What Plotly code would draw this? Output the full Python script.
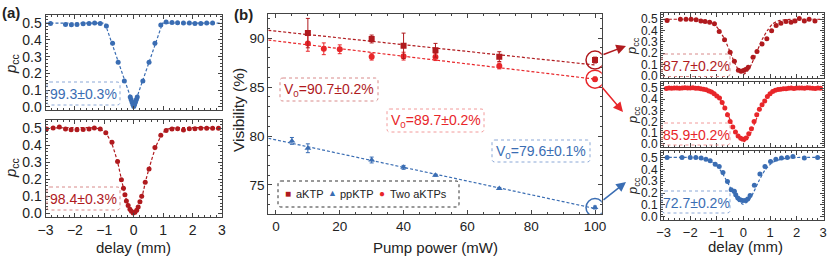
import plotly.graph_objects as go

W, H = 831, 258
FONT = "Liberation Sans, Arial, sans-serif"
DARKRED = "#b01a1e"
RED = "#e8262a"
BLUE = "#3a6db3"
FRAME = "#444444"

# ---------------- data ----------------
# (a) top: ppKTP HOM dip (blue)
a1_x = [-2.83, -2.32, -2.12, -1.93, -1.72, -1.52, -1.33, -1.14, -0.93, -0.72, -0.53, -0.32,
        -0.12, -0.09, -0.06, -0.03, 0.0, 0.03, 0.06, 0.09, 0.12,
        0.31, 0.52, 0.72, 0.92, 1.10, 1.30, 1.49, 1.69, 1.89, 2.08, 2.28, 2.48, 2.68]
a1_y = [0.498, 0.492, 0.490, 0.492, 0.496, 0.498, 0.500, 0.498, 0.482, 0.379, 0.266, 0.155,
        0.060, 0.045, 0.030, 0.015, 0.003, 0.015, 0.030, 0.045, 0.060,
        0.155, 0.266, 0.379, 0.488, 0.506, 0.504, 0.502, 0.500, 0.500, 0.498, 0.498, 0.500, 0.500]
a1_fit_x = [-3.0, -0.98, 0.0, 0.98, 3.0]
a1_fit_y = [0.5, 0.5, 0.003, 0.5, 0.5]
a1_label = "99.3±0.3%"

# (a) bottom: aKTP HOM dip (dark red)
a2_x = [-2.97, -2.74, -2.53, -2.32, -2.13, -1.93, -1.72, -1.52, -1.34, -1.14, -0.95, -0.74,
        -0.55, -0.42, -0.35, -0.30, -0.25, -0.19, -0.13, -0.08, -0.02, 0.04, 0.10, 0.15,
        0.21, 0.27, 0.39, 0.52, 0.72, 0.92, 1.10, 1.30, 1.49, 1.69, 1.89, 2.08, 2.28, 2.48,
        2.68, 2.88]
a2_y = [0.494, 0.500, 0.506, 0.494, 0.490, 0.490, 0.492, 0.494, 0.500, 0.494, 0.472, 0.416,
        0.304, 0.196, 0.147, 0.108, 0.072, 0.045, 0.024, 0.011, 0.002, 0.006, 0.017, 0.037,
        0.068, 0.100, 0.182, 0.259, 0.386, 0.457, 0.486, 0.494, 0.496, 0.488, 0.496, 0.496,
        0.498, 0.498, 0.498, 0.498]
a2_fit_x = [-3.0, -1.3, -1.1, -0.95, -0.75, -0.55, -0.42, -0.3, -0.2, -0.1, 0.0,
            0.1, 0.2, 0.3, 0.42, 0.55, 0.75, 0.95, 1.1, 1.3, 3.0]
a2_fit_y = [0.5, 0.5, 0.49, 0.47, 0.41, 0.30, 0.20, 0.11, 0.05, 0.013, 0.0,
            0.013, 0.05, 0.11, 0.20, 0.28, 0.39, 0.46, 0.49, 0.5, 0.5]
a2_label = "98.4±0.3%"

# (b) visibility vs pump power
pump_akt = [10, 30, 40, 50, 70, 100]
vis_akt = [90.5, 89.9, 89.2, 88.75, 88.1, 87.75]
err_akt = [1.5, 0.4, 1.3, 0.7, 0.5, 0.3]
pump_pp = [5, 10, 30, 40, 50, 70, 100]
vis_pp = [79.5, 78.75, 77.55, 76.8, 76.0, 74.65, 72.7]
err_pp = [0.35, 0.45, 0.3, 0.2, 0.1, 0.1, 0.15]
pump_two = [10, 15, 20, 30, 40, 50, 70, 100]
vis_two = [89.45, 88.9, 88.85, 88.1, 88.15, 88.05, 87.15, 85.8]
err_two = [0.8, 0.6, 0.45, 0.35, 0.4, 0.35, 0.3, 0.2]
fit_pump = [-2.4, 100]
fit_akt = [90.78, 87.25]
fit_two = [89.79, 85.80]
fit_pp = [79.77, 72.60]
v0_labels = ["V<sub>0</sub>=90.7±0.2%", "V<sub>0</sub>=89.7±0.2%", "V<sub>0</sub>=79.6±0.1%"]
legend_names = ["aKTP", "ppKTP", "Two aKTPs"]

# right column: dips at 100 mW
r1_x = [-2.87, -2.37, -2.16, -1.97, -1.78, -1.60, -1.44, -1.27, -1.09, -0.91, -0.71, -0.50,
        -0.34, -0.19, -0.09, 0.0, 0.08, 0.18, 0.36, 0.51, 0.70, 0.88, 1.06, 1.23, 1.41,
        1.60, 1.79, 1.94, 2.10, 2.29, 2.47, 2.69]
r1_y = [0.489, 0.500, 0.500, 0.500, 0.495, 0.485, 0.480, 0.474, 0.460, 0.392, 0.319, 0.208,
        0.129, 0.050, 0.041, 0.047, 0.055, 0.076, 0.164, 0.216, 0.281, 0.327, 0.398, 0.444, 0.465,
        0.480, 0.474, 0.485, 0.506, 0.485, 0.500, 0.485]
r1_fit_x = [-3.0, -2.0, -1.6, -1.3, -1.1, -0.9, -0.7, -0.5, -0.3, -0.15, 0.0,
            0.15, 0.3, 0.5, 0.7, 0.9, 1.1, 1.3, 1.6, 2.0, 3.0]
r1_fit_y = [0.5, 0.5, 0.497, 0.485, 0.46, 0.40, 0.32, 0.21, 0.10, 0.04, 0.015,
            0.04, 0.10, 0.21, 0.32, 0.40, 0.46, 0.485, 0.497, 0.5, 0.5]
r1_label = "87.7±0.2%"

r2_x = [-2.9, -2.8, -2.7, -2.6, -2.5, -2.4, -2.3, -2.2, -2.1, -2.0, -1.9, -1.8, -1.7, -1.6,
        -1.5, -1.4, -1.3, -1.2, -1.1, -1.0, -0.9, -0.8, -0.7, -0.6, -0.5, -0.4, -0.3, -0.2,
        -0.1, 0.0, 0.1, 0.2, 0.3, 0.4, 0.5, 0.6, 0.7, 0.8, 0.9, 1.0, 1.1, 1.2, 1.3, 1.4,
        1.5, 1.6, 1.7, 1.8, 1.9, 2.0, 2.1, 2.2, 2.3, 2.4, 2.5, 2.6, 2.7, 2.8, 2.9]
r2_y = [0.497, 0.500, 0.498, 0.500, 0.502, 0.499, 0.500, 0.503, 0.501, 0.500, 0.504, 0.499,
        0.498, 0.495, 0.490, 0.485, 0.475, 0.465, 0.450, 0.430, 0.410, 0.370, 0.320, 0.260,
        0.200, 0.150, 0.105, 0.070, 0.048, 0.040, 0.050, 0.090, 0.135, 0.200, 0.260, 0.310,
        0.350, 0.385, 0.425, 0.450, 0.470, 0.480, 0.487, 0.490, 0.495, 0.495, 0.498, 0.500,
        0.497, 0.500, 0.502, 0.500, 0.498, 0.503, 0.500, 0.499, 0.497, 0.500, 0.498]
r2_fit_x = [-3.0, -2.0, -1.5, -1.2, -1.0, -0.8, -0.6, -0.4, -0.2, 0.0,
            0.2, 0.4, 0.6, 0.8, 1.0, 1.2, 1.5, 2.0, 3.0]
r2_fit_y = [0.5, 0.5, 0.497, 0.48, 0.44, 0.37, 0.27, 0.16, 0.06, 0.015,
            0.06, 0.17, 0.29, 0.39, 0.445, 0.48, 0.497, 0.5, 0.5]
r2_label = "85.9±0.2%"

r3_x = [-2.87, -2.31, -2.00, -1.79, -1.59, -1.41, -1.25, -1.06, -0.91, -0.77, -0.60, -0.46,
        -0.34, -0.29, -0.21, -0.12, -0.04, 0.06, 0.16, 0.25, 0.41, 0.62, 0.81, 1.02, 1.22,
        1.43, 1.65, 1.86, 2.29, 2.79]
r3_y = [0.500, 0.500, 0.500, 0.500, 0.495, 0.486, 0.472, 0.444, 0.425, 0.374, 0.298, 0.228,
        0.214, 0.185, 0.157, 0.143, 0.137, 0.137, 0.150, 0.180, 0.265, 0.360, 0.425, 0.467, 0.486,
        0.495, 0.500, 0.508, 0.495, 0.500]
r3_fit_x = [-3.0, -2.0, -1.5, -1.2, -1.0, -0.8, -0.6, -0.4, -0.2, 0.0,
            0.2, 0.4, 0.6, 0.8, 1.0, 1.2, 1.5, 2.0, 3.0]
r3_fit_y = [0.5, 0.5, 0.49, 0.465, 0.43, 0.37, 0.29, 0.205, 0.135, 0.105,
            0.135, 0.215, 0.31, 0.39, 0.44, 0.47, 0.49, 0.5, 0.5]
r3_label = "72.7±0.2%"

# ---------------- helpers ----------------
def PX(x):
    return x / W


def PY(y):
    return 1 - y / H


def rounded_box(x0, y0, x1, y1, color, r=3):
    rx, ry = r / W, r / H
    X0, X1 = PX(x0), PX(x1)
    Y0, Y1 = PY(y0), PY(y1)  # Y0 top (larger), Y1 bottom
    path = (f"M {X0+rx},{Y0} L {X1-rx},{Y0} Q {X1},{Y0} {X1},{Y0-ry} "
            f"L {X1},{Y1+ry} Q {X1},{Y1} {X1-rx},{Y1} L {X0+rx},{Y1} "
            f"Q {X0},{Y1} {X0},{Y1+ry} L {X0},{Y0-ry} Q {X0},{Y0} {X0+rx},{Y0} Z")
    return dict(type="path", path=path, xref="paper", yref="paper",
                line=dict(color=color, width=1, dash="dot"), layer="above")


fig = go.Figure()
DASH = "3px,2px"


def dip(xs, ys, fx, fy, color, ax, size=5):
    fig.add_trace(go.Scatter(x=fx, y=fy, mode="lines", line=dict(color=color, width=1.2, dash=DASH, shape="spline", smoothing=0.6),
                             xaxis="x" + ax, yaxis="y" + ax, showlegend=False, hoverinfo="skip"))
    fig.add_trace(go.Scatter(x=xs, y=ys, mode="markers", marker=dict(color=color, size=size),
                             xaxis="x" + ax, yaxis="y" + ax, showlegend=False))


fig.add_trace(go.Scatter(x=a1_fit_x, y=a1_fit_y, mode="lines", line=dict(color=BLUE, width=1.2, dash=DASH),
                         xaxis="x", yaxis="y", showlegend=False))
fig.add_trace(go.Scatter(x=a1_x, y=a1_y, mode="markers", marker=dict(color=BLUE, size=5),
                         xaxis="x", yaxis="y", showlegend=False))
dip(a2_x, a2_y, a2_fit_x, a2_fit_y, DARKRED, "2")
dip(r1_x, r1_y, r1_fit_x, r1_fit_y, DARKRED, "4")
dip(r2_x, r2_y, r2_fit_x, r2_fit_y, RED, "5")
dip(r3_x, r3_y, r3_fit_x, r3_fit_y, BLUE, "6")

# (b)
for fy, col in [(fit_akt, DARKRED), (fit_two, RED), (fit_pp, BLUE)]:
    fig.add_trace(go.Scatter(x=fit_pump, y=fy, mode="lines", line=dict(color=col, width=1.2, dash=DASH),
                             xaxis="x3", yaxis="y3", showlegend=False))
fig.add_trace(go.Scatter(x=pump_two, y=vis_two, mode="markers",
                         marker=dict(color=RED, size=6, symbol="circle"),
                         error_y=dict(type="data", array=err_two, color=RED, thickness=1, width=2),
                         xaxis="x3", yaxis="y3", showlegend=False))
fig.add_trace(go.Scatter(x=pump_akt, y=vis_akt, mode="markers",
                         marker=dict(color=DARKRED, size=6, symbol="square"),
                         error_y=dict(type="data", array=err_akt, color=DARKRED, thickness=1, width=2),
                         xaxis="x3", yaxis="y3", showlegend=False))
fig.add_trace(go.Scatter(x=pump_pp, y=vis_pp, mode="markers",
                         marker=dict(color=BLUE, size=6, symbol="triangle-up"),
                         error_y=dict(type="data", array=err_pp, color=BLUE, thickness=1, width=2),
                         xaxis="x3", yaxis="y3", showlegend=False))

# ---------------- axes ----------------
def axis(domain, rng, dtick, minor, size=14, labels=True, fmt=None, anchor=None):
    d = dict(domain=domain, range=rng, dtick=dtick, tick0=0, showline=True, linecolor=FRAME, linewidth=1,
             mirror="allticks", ticks="inside", ticklen=4, tickcolor=FRAME, tickwidth=1,
             showgrid=False, zeroline=False, showticklabels=labels, automargin=False,
             tickfont=dict(family=FONT, size=size, color="#222"),
             minor=dict(ticks="inside", ticklen=2, dtick=minor, tickcolor=FRAME, showgrid=False),
             anchor=anchor)
    if fmt:
        d["tickformat"] = fmt
    return d


ax_a = [PX(45.5), PX(222)]
ax_r = [PX(661), PX(824)]
layout_axes = dict(
    xaxis=axis(ax_a, [-3, 3], 1, 0.2, labels=False, anchor="y"),
    yaxis=axis([PY(110), PY(15)], [-0.018, 0.548], 0.1, 0.02, fmt=".1f", anchor="x"),
    xaxis2=axis(ax_a, [-3, 3], 1, 0.2, anchor="y2"),
    yaxis2=axis([PY(217), PY(120)], [-0.022, 0.547], 0.1, 0.02, fmt=".1f", anchor="x2"),
    xaxis3=axis([PX(268.3), PX(601.7)], [-2.4, 102.1], 20, 5, size=13.5, anchor="y3"),
    yaxis3=axis([PY(214), PY(14)], [72.04, 92.45], 5, 1, size=13.5, anchor="x3"),
    xaxis4=axis(ax_r, [-3.1, 3.03], 1, 0.2, size=13, labels=False, anchor="y4"),
    yaxis4=axis([PY(77.5), PY(13.3)], [-0.015, 0.553], 0.1, 0.02, size=12, fmt=".1f", anchor="x4"),
    xaxis5=axis(ax_r, [-3.1, 3.03], 1, 0.2, size=13, labels=False, anchor="y5"),
    yaxis5=axis([PY(147), PY(82)], [-0.03, 0.555], 0.1, 0.02, size=12, fmt=".1f", anchor="x5"),
    xaxis6=axis(ax_r, [-3.1, 3.03], 1, 0.2, size=13, anchor="y6"),
    yaxis6=axis([PY(220), PY(151)], [-0.028, 0.555], 0.1, 0.02, size=12, fmt=".1f", anchor="x6"),
)

# ---------------- annotations & shapes ----------------
ann = []
shapes = []


def text(x, y, s, size=14, color="#222", angle=0, bold=False, xanchor="center"):
    if bold:
        s = "<b>" + s + "</b>"
    ann.append(dict(x=PX(x), y=PY(y), xref="paper", yref="paper", text=s, showarrow=False,
                    textangle=angle, xanchor=xanchor, yanchor="middle",
                    font=dict(family=FONT, size=size, color=color)))


# panel labels
text(11, 13, "(a)", size=15, bold=True)
text(244, 15, "(b)", size=15, bold=True)

# axis titles
text(11, 64, "<i>p</i><sub>cc</sub>", size=15, angle=-90)
text(11, 168, "<i>p</i><sub>cc</sub>", size=15, angle=-90)
text(133.5, 247, "delay (mm)", size=15)
text(238, 110, "Visibility (%)", size=15.5, angle=-90)
text(435, 247, "Pump power (mW)", size=15)
text(633, 46, "<i>p</i><sub>cc</sub>", size=13, angle=-90)
text(633, 115, "<i>p</i><sub>cc</sub>", size=13, angle=-90)
text(633, 186, "<i>p</i><sub>cc</sub>", size=13, angle=-90)
text(745, 246, "delay (mm)", size=15)

# value boxes
boxes = [
    ((47, 82, 120, 105), a1_label, BLUE, "#8aa7d6"),
    ((47, 187, 120, 210), a2_label, DARKRED, "#d88a8a"),
    ((662, 54, 730, 76.5), r1_label, DARKRED, "#d88a8a"),
    ((662, 123, 730, 145), r2_label, RED, "#f29a9a"),
    ((662, 191, 730, 213), r3_label, BLUE, "#8aa7d6"),
    ((280, 78, 378, 101), v0_labels[0], DARKRED, "#d88a8a"),
    ((387, 109, 484, 132), v0_labels[1], RED, "#f29a9a"),
    ((492, 140, 590, 162), v0_labels[2], BLUE, "#8aa7d6"),
]
for (x0, y0, x1, y1), s, col, bcol in boxes:
    shapes.append(rounded_box(x0, y0, x1, y1, bcol))
    text((x0 + x1) / 2, (y0 + y1) / 2 + 0.5, s, size=14, color=col)

# legend (manual)
shapes.append(rounded_box(278, 181, 459, 207, "#333333"))
text(288, 193.5, "■", size=10, color=DARKRED)
text(294, 194, legend_names[0], size=11, xanchor="left")
text(332, 193, "▲", size=9, color=BLUE)
text(338, 194, legend_names[1], size=11, xanchor="left")
text(382, 193.5, "●", size=10, color=RED)
text(388, 194, legend_names[2], size=11, xanchor="left")

# highlight circles at 100 mW
for yv, col in [(vis_akt[-1], DARKRED), (vis_two[-1], RED), (vis_pp[-1], BLUE)]:
    shapes.append(dict(type="circle", xref="x3", yref="y3", xsizemode="pixel", ysizemode="pixel",
                       xanchor=100, yanchor=yv, x0=-9, x1=9, y0=-9, y1=9,
                       line=dict(color=col, width=1.5), layer="above"))

# arrows to right panels
for (hx, hy, tx, ty), col in [((626, 46, 602, 55), DARKRED), ((623, 112, 601, 86), RED),
                              ((626, 182, 602, 201), BLUE)]:
    ann.append(dict(x=PX(hx), y=PY(hy), xref="paper", yref="paper", ax=tx - hx, ay=ty - hy,
                    axref="pixel", ayref="pixel", text="", showarrow=True, arrowhead=2,
                    arrowsize=1.3, arrowwidth=1.5, arrowcolor=col))

fig.update_layout(width=W, height=H, margin=dict(l=0, r=0, t=0, b=0),
                  paper_bgcolor="white", plot_bgcolor="white",
                  annotations=ann, shapes=shapes, showlegend=False, **layout_axes)

fig.write_html("out.html", config={"displayModeBar": False},
               post_script="document.body.style.margin='0';document.body.style.overflow='hidden';")
